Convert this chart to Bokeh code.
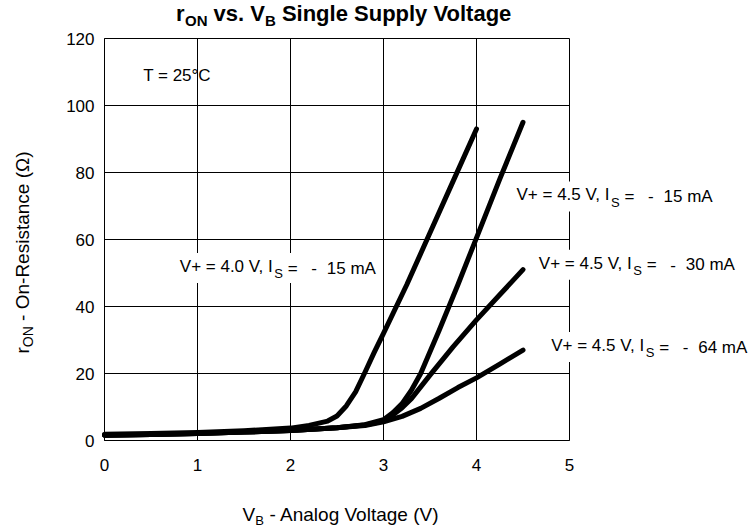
import math
from bokeh.plotting import figure
from bokeh.models import Range1d, FixedTicker, Label
from bokeh.embed import file_html
from bokeh.resources import INLINE

# ---------------- data ----------------
vb_40_15 = [0.0, 0.5, 1.0, 1.5, 2.0, 2.2, 2.4, 2.5, 2.6, 2.7, 2.8, 2.9, 3.0, 3.25, 3.5, 3.75, 4.0]
ron_40_15 = [1.9, 2.1, 2.4, 2.9, 3.7, 4.5, 5.8, 7.3, 10.3, 14.5, 20.3, 26.3, 32.0, 46.5, 62.0, 77.5, 93.0]

vb_45_15 = [0.0, 0.5, 1.0, 1.5, 2.0, 2.5, 2.8, 3.0, 3.1, 3.2, 3.3, 3.4, 3.6, 3.8, 4.0, 4.25, 4.5]
ron_45_15 = [1.6, 1.8, 2.1, 2.5, 3.0, 3.8, 4.7, 6.2, 8.3, 11.0, 15.0, 20.0, 33.0, 46.5, 60.5, 78.0, 95.0]

vb_45_30 = [0.0, 0.5, 1.0, 1.5, 2.0, 2.5, 2.8, 3.0, 3.1, 3.2, 3.3, 3.5, 3.75, 4.0, 4.25, 4.5]
ron_45_30 = [1.6, 1.8, 2.1, 2.5, 3.0, 3.8, 4.6, 5.8, 7.6, 9.8, 12.5, 19.5, 28.0, 36.0, 43.5, 51.0]

vb_45_64 = [0.0, 0.5, 1.0, 1.5, 2.0, 2.5, 2.8, 3.0, 3.2, 3.4, 3.6, 3.8, 4.0, 4.25, 4.5]
ron_45_64 = [1.6, 1.8, 2.1, 2.5, 3.0, 3.8, 4.5, 5.6, 7.2, 9.6, 12.6, 15.8, 18.7, 22.8, 27.0]

x_ticks = [0, 1, 2, 3, 4, 5]
y_ticks = [0, 20, 40, 60, 80, 100, 120]

supply_v = ["4.0", "4.5", "4.5", "4.5"]
source_ma = ["15", "15", "30", "64"]

# ---------------- layout ----------------
W, H = 751, 529
# pixel position of the data box (x 0..5, y 0..120) inside the canvas
FL, FR, FT, FB = 104, 569, 38, 440
X0, X1, Y0, Y1 = x_ticks[0], x_ticks[-1], y_ticks[0], y_ticks[-1]
FONT = "Liberation Sans"
BASE_FIX = 0.3   # empirical baseline correction (in em)

# the plot frame covers the whole canvas so that texts outside the data box are not clipped
sx = (FR - FL) / (X1 - X0)
sy = (FB - FT) / (Y1 - Y0)
xr = Range1d(X0 - FL / sx, X1 + (W - FR) / sx)
yr = Range1d(Y0 - (H - FB) / sy, Y1 + FT / sy)

p = figure(width=W, height=H, output_backend="svg", toolbar_location=None,
           x_range=xr, y_range=yr, min_border=0,
           min_border_left=0, min_border_right=0,
           min_border_top=0, min_border_bottom=0)
p.background_fill_color = "white"
p.border_fill_color = "white"
p.outline_line_color = None

p.xaxis.ticker = FixedTicker(ticks=x_ticks)
p.yaxis.ticker = FixedTicker(ticks=y_ticks)
p.xaxis.fixed_location = Y0
p.yaxis.fixed_location = X0
p.xaxis.bounds = (X0, X1)
p.yaxis.bounds = (Y0, Y1)
for ax in (p.xaxis[0], p.yaxis[0]):
    ax.major_tick_in = 0
    ax.major_tick_out = 0
    ax.minor_tick_in = 0
    ax.minor_tick_out = 0
    ax.axis_line_color = "black"
    ax.axis_line_width = 1
    ax.major_label_text_font = FONT
    ax.major_label_text_font_size = "17px"
    ax.major_label_text_color = "black"
p.xaxis.major_label_standoff = 18
p.yaxis.major_label_standoff = 10

p.xgrid.ticker = FixedTicker(ticks=x_ticks)
p.ygrid.ticker = FixedTicker(ticks=y_ticks)
p.grid.grid_line_color = "black"
p.grid.grid_line_alpha = 1.0
p.grid.grid_line_width = 1
try:
    p.xgrid.cross_bounds = (Y0, Y1)
    p.ygrid.cross_bounds = (X0, X1)
except Exception:
    p.grid.visible = False
    p.segment(x0=x_ticks, y0=[Y0] * len(x_ticks), x1=x_ticks, y1=[Y1] * len(x_ticks),
              line_color="black", line_width=1)
    p.segment(x0=[X0] * len(y_ticks), y0=y_ticks, x1=[X1] * len(y_ticks), y1=y_ticks,
              line_color="black", line_width=1)

for vb, ron in ((vb_40_15, ron_40_15), (vb_45_15, ron_45_15),
                (vb_45_30, ron_45_30), (vb_45_64, ron_45_64)):
    p.line(vb, ron, line_width=5, line_color="black",
           line_cap="round", line_join="round")


def to_data(px, py):
    return (X0 + (px - FL) / sx, Y0 + (FB - py) / sy)


def put(text, px, py, size, bold=False, angle=0.0, pad=None):
    # px, py: pixel position of the text's start on its baseline
    if angle:
        px -= BASE_FIX * size
    else:
        py -= BASE_FIX * size
    x, y = to_data(px, py)
    kw = {}
    if pad is not None:
        kw["background_fill_color"] = "white"
        kw["background_fill_alpha"] = 1.0
    lab = Label(x=x, y=y, text=text,
                text_font=FONT, text_font_size=f"{size}px",
                text_font_style="bold" if bold else "normal",
                text_color="black", text_align="left",
                text_baseline="alphabetic", angle=angle, **kw)
    if pad is not None:
        try:
            lab.padding = dict(left=pad[0], right=pad[1], top=pad[2], bottom=pad[3])
        except Exception:
            lab.padding = tuple(pad)
    p.add_layout(lab)


# title  r_ON vs. V_B Single Supply Voltage
put("r", 175.5, 20, 22, bold=True)
put("ON", 184.5, 24, 15, bold=True)
put("vs.", 213.1, 20, 22, bold=True)
put("V", 249.8, 20, 22, bold=True)
put("B", 264.5, 24, 15, bold=True)
put("Single Supply Voltage", 281.4, 20, 22, bold=True)

# y axis title  r_ON - On-Resistance (Ω)
ang = math.pi / 2
put("r", 28, 353, 19, angle=ang)
put("ON", 32, 346.7, 14, angle=ang)
put("- On-Resistance (\u03a9)", 28, 320.4, 19, angle=ang)

# x axis title  V_B - Analog Voltage (V)
put("V", 242, 520, 19)
put("B", 254.7, 524, 13)
put("- Analog Voltage (V)", 269, 520, 19)

# temperature note
put("T = 25\u00b0C", 142.7, 80, 17)

# curve labels  V+ = x V, I_S = - y mA
starts = [(179.3, 272.7), (516.0, 201.0), (538.3, 269.3), (550.7, 351.7)]
for (px, py), v, ma in zip(starts, supply_v, source_ma):
    put(f"V+ = {v} V, I", px, py, 17, pad=(0, 110, 4, 7))
    put("S", px + 94.5, py + 4.5, 13)
    put("=", px + 108, py, 17)
    put("-", px + 131.5, py, 17)
    put(f"{ma} mA", px + 147, py, 17)

open("out.html", "w").write(file_html(p, INLINE, title="rON vs. VB Single Supply Voltage"))
